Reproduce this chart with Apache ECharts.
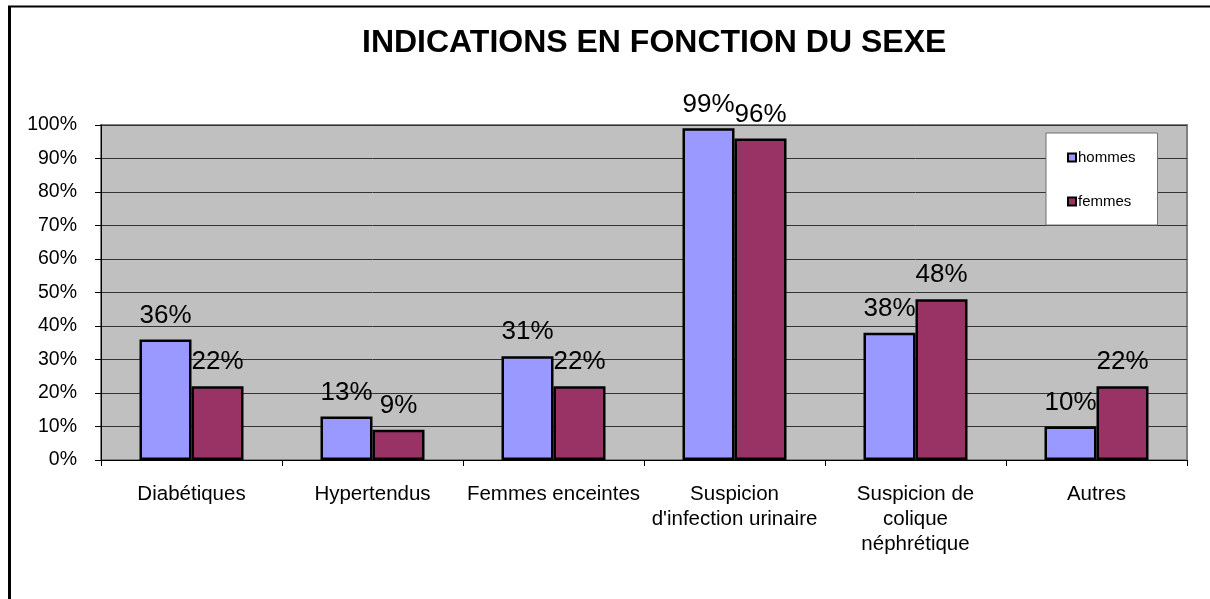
<!DOCTYPE html>
<html>
<head>
<meta charset="utf-8">
<script src="https://cdn.jsdelivr.net/npm/echarts@6/dist/echarts.min.js"></script>
<style>
html,body{margin:0;padding:0;background:#fff;}
#chart{width:1210px;height:599px;}
</style>
</head>
<body>
<div id="chart"></div>
<script>
var categories = ["Diabétiques", "Hypertendus", "Femmes enceintes", "Suspicion\nd'infection urinaire", "Suspicion de\ncolique\nnéphrétique", "Autres"];
var hommes = [36, 13, 31, 99, 38, 10];
var femmes = [22, 9, 22, 96, 48, 22];
var yTicks = [0, 10, 20, 30, 40, 50, 60, 70, 80, 90, 100];

var FONT = "'Liberation Sans', Arial, sans-serif";
var chart = echarts.init(document.getElementById('chart'));

var labelCfg = {
  show: true,
  position: 'top',
  distance: 11,
  formatter: '{c}%',
  fontFamily: FONT,
  fontSize: 26,
  color: '#000'
};

chart.setOption({
  animation: false,
  backgroundColor: '#fff',
  title: {
    text: 'INDICATIONS EN FONCTION DU SEXE',
    left: 357,
    top: 22,
    textStyle: { fontFamily: FONT, fontSize: 32, fontWeight: 'bold', color: '#000' }
  },
  legend: {
    orient: 'vertical',
    left: 1046,
    top: 133,
    backgroundColor: '#fff',
    borderColor: '#707070',
    borderWidth: 1,
    padding: [17, 22, 16, 21],
    itemWidth: 8,
    itemHeight: 8,
    itemGap: 29,
    icon: 'rect',
    textStyle: { fontFamily: FONT, fontSize: 15, color: '#000', padding: [0, 0, 0, -3], lineHeight: 15 },
    itemStyle: { borderColor: '#000', borderWidth: 2 },
    data: ['hommes', 'femmes']
  },
  grid: {
    left: 101, right: 23, top: 125, bottom: 139,
    show: true,
    backgroundColor: '#c0c0c0',
    borderColor: '#808080',
    borderWidth: 2
  },
  xAxis: {
    type: 'category',
    data: categories,
    axisLine: { lineStyle: { color: '#000', width: 1 } },
    axisTick: { show: true, length: 6, lineStyle: { color: '#000' } },
    axisLabel: {
      interval: 0,
      margin: 22,
      fontFamily: FONT,
      fontSize: 20.5,
      lineHeight: 25,
      color: '#000',
      align: 'center'
    }
  },
  yAxis: {
    type: 'value',
    min: yTicks[0],
    max: yTicks[yTicks.length - 1],
    interval: 10,
    axisLine: { show: true, lineStyle: { color: '#000', width: 1 } },
    axisTick: { show: true, length: 6, lineStyle: { color: '#000' } },
    axisLabel: {
      margin: 24,
      formatter: '{value}%',
      fontFamily: FONT,
      fontSize: 19.5,
      color: '#000'
    },
    splitLine: { show: true, lineStyle: { color: '#333', width: 1 } }
  },
  series: [
    {
      name: 'hommes',
      type: 'bar',
      data: hommes,
      barWidth: 52,
      barGap: '0%',
      itemStyle: { color: '#9999ff', borderColor: '#000', borderWidth: 2.5 },
      label: labelCfg
    },
    {
      name: 'femmes',
      type: 'bar',
      data: femmes,
      barWidth: 52,
      barGap: '0%',
      itemStyle: { color: '#993366', borderColor: '#000', borderWidth: 2.5 },
      label: labelCfg
    }
  ],
  graphic: [
    { type: 'line', shape: { x1: 8, y1: 6.5, x2: 1210, y2: 6.5 }, style: { stroke: '#000', lineWidth: 2 }, z: 100 },
    { type: 'line', shape: { x1: 9.5, y1: 6, x2: 9.5, y2: 599 }, style: { stroke: '#000', lineWidth: 3 }, z: 100 }
  ]
});
</script>
</body>
</html>
